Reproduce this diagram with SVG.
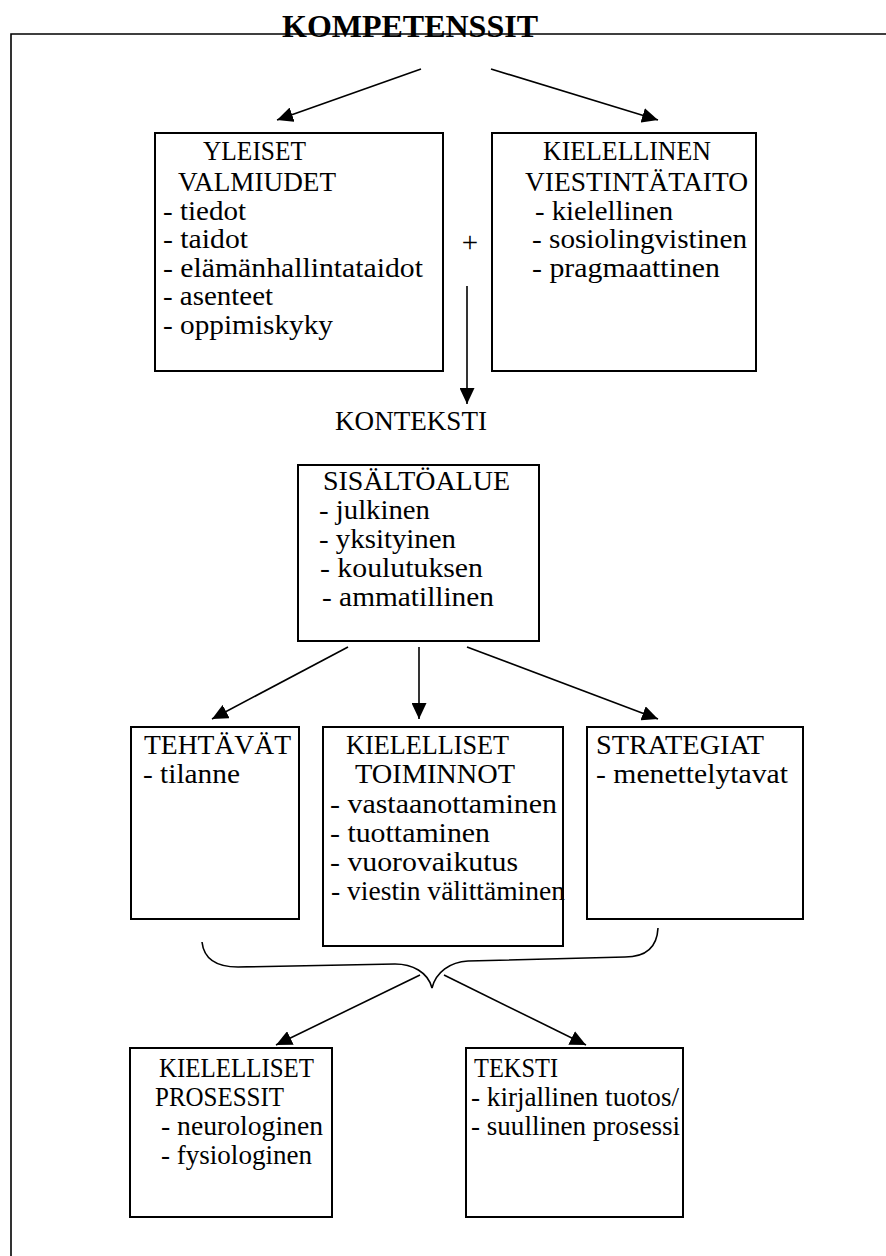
<svg xmlns="http://www.w3.org/2000/svg" width="886" height="1256" viewBox="0 0 886 1256">
  <style>
    .frame { fill: none; stroke: #000; stroke-width: 1.6; }
    .box { fill: #fff; stroke: #000; stroke-width: 2; }
    .link { fill: none; stroke: #000; stroke-width: 1.6; }
    .arrow { marker-end: url(#head); }
    text { font-family: "Liberation Serif", "Times New Roman", serif; font-size: 27px; fill: #000; }
    .title { font-weight: bold; font-size: 31px; }
    .plus { font-size: 29px; }
  </style>
  <defs>
    <marker id="head" markerUnits="userSpaceOnUse" markerWidth="16" markerHeight="15" refX="16" refY="7.5" orient="auto">
      <path d="M0,0 L16,7.5 L0,15 Z" fill="#000"/>
    </marker>
  </defs>

  <rect width="886" height="1256" fill="#fff"/>

  <!-- outer frame: top rule and left rule -->
  <path class="frame" d="M11,1256 L11,34 L886,34"/>
  <text class="title" x="282" y="37" textLength="256" lengthAdjust="spacingAndGlyphs">KOMPETENSSIT</text>

  <g id="connectors">
    <line class="link arrow" x1="421" y1="69" x2="277" y2="120"/>
    <line class="link arrow" x1="491" y1="69" x2="658" y2="120"/>
    <line class="link arrow" x1="467" y1="286" x2="467" y2="404"/>
    <line class="link arrow" x1="348" y1="647" x2="212" y2="719"/>
    <line class="link arrow" x1="419" y1="647" x2="419" y2="719"/>
    <line class="link arrow" x1="467" y1="647" x2="658" y2="719"/>
    <!-- curly brace joining the three middle boxes -->
    <path class="link" d="M202,942 C204,960 218,967 238,967 L395,964 C412,964 428,972 432,988 C436,972 450,962 468,961 L625,957 C645,957 657,948 658,928"/>
    <line class="link arrow" x1="420" y1="975" x2="276" y2="1045"/>
    <line class="link arrow" x1="444" y1="975" x2="586" y2="1045"/>
  </g>

  <g id="yleiset-valmiudet">
    <rect class="box" x="155" y="133" width="288" height="238"/>
    <text x="203" y="160" textLength="103" lengthAdjust="spacingAndGlyphs">YLEISET</text>
    <text x="178" y="191" textLength="158" lengthAdjust="spacingAndGlyphs">VALMIUDET</text>
    <text x="163" y="220" textLength="83" lengthAdjust="spacingAndGlyphs">- tiedot</text>
    <text x="163" y="248" textLength="85" lengthAdjust="spacingAndGlyphs">- taidot</text>
    <text x="163" y="277" textLength="260" lengthAdjust="spacingAndGlyphs">- elämänhallintataidot</text>
    <text x="163" y="305" textLength="110" lengthAdjust="spacingAndGlyphs">- asenteet</text>
    <text x="163" y="334" textLength="170" lengthAdjust="spacingAndGlyphs">- oppimiskyky</text>
  </g>

  <g id="plus">
    <text class="plus" x="470" y="252" text-anchor="middle">+</text>
  </g>

  <g id="kielellinen-viestintataito">
    <rect class="box" x="492" y="133" width="264" height="238"/>
    <text x="543" y="160" textLength="168" lengthAdjust="spacingAndGlyphs">KIELELLINEN</text>
    <text x="525" y="191" textLength="223" lengthAdjust="spacingAndGlyphs">VIESTINTÄTAITO</text>
    <text x="535" y="220" textLength="138" lengthAdjust="spacingAndGlyphs">- kielellinen</text>
    <text x="532" y="248" textLength="215" lengthAdjust="spacingAndGlyphs">- sosiolingvistinen</text>
    <text x="532" y="277" textLength="188" lengthAdjust="spacingAndGlyphs">- pragmaattinen</text>
  </g>

  <g id="konteksti">
    <text x="335" y="430" textLength="152" lengthAdjust="spacingAndGlyphs">KONTEKSTI</text>
  </g>

  <g id="sisaltoalue">
    <rect class="box" x="298" y="465" width="241" height="176"/>
    <text x="323" y="490" textLength="187" lengthAdjust="spacingAndGlyphs">SISÄLTÖALUE</text>
    <text x="319" y="519" textLength="111" lengthAdjust="spacingAndGlyphs">- julkinen</text>
    <text x="319" y="548" textLength="137" lengthAdjust="spacingAndGlyphs">- yksityinen</text>
    <text x="320" y="577" textLength="163" lengthAdjust="spacingAndGlyphs">- koulutuksen</text>
    <text x="322" y="606" textLength="172" lengthAdjust="spacingAndGlyphs">- ammatillinen</text>
  </g>

  <g id="tehtavat">
    <rect class="box" x="131" y="727" width="168" height="192"/>
    <text x="144" y="754" textLength="147" lengthAdjust="spacingAndGlyphs">TEHTÄVÄT</text>
    <text x="143" y="783" textLength="97" lengthAdjust="spacingAndGlyphs">- tilanne</text>
  </g>

  <g id="kielelliset-toiminnot">
    <rect class="box" x="323" y="727" width="240" height="219"/>
    <text x="346" y="754" textLength="163" lengthAdjust="spacingAndGlyphs">KIELELLISET</text>
    <text x="355" y="783" textLength="160" lengthAdjust="spacingAndGlyphs">TOIMINNOT</text>
    <text x="330" y="813" textLength="227" lengthAdjust="spacingAndGlyphs">- vastaanottaminen</text>
    <text x="330" y="842" textLength="160" lengthAdjust="spacingAndGlyphs">- tuottaminen</text>
    <text x="330" y="871" textLength="188" lengthAdjust="spacingAndGlyphs">- vuorovaikutus</text>
    <text x="331" y="900" textLength="234" lengthAdjust="spacingAndGlyphs">- viestin välittäminen</text>
  </g>

  <g id="strategiat">
    <rect class="box" x="587" y="727" width="216" height="192"/>
    <text x="596" y="754" textLength="168" lengthAdjust="spacingAndGlyphs">STRATEGIAT</text>
    <text x="596" y="783" textLength="192" lengthAdjust="spacingAndGlyphs">- menettelytavat</text>
  </g>

  <g id="kielelliset-prosessit">
    <rect class="box" x="130" y="1048" width="202" height="169"/>
    <text x="159" y="1077" textLength="155" lengthAdjust="spacingAndGlyphs">KIELELLISET</text>
    <text x="155" y="1106" textLength="129" lengthAdjust="spacingAndGlyphs">PROSESSIT</text>
    <text x="161" y="1135" textLength="162" lengthAdjust="spacingAndGlyphs">- neurologinen</text>
    <text x="161" y="1164" textLength="151" lengthAdjust="spacingAndGlyphs">- fysiologinen</text>
  </g>

  <g id="teksti">
    <rect class="box" x="466" y="1048" width="217" height="169"/>
    <text x="474" y="1077" textLength="84" lengthAdjust="spacingAndGlyphs">TEKSTI</text>
    <text x="471" y="1106" textLength="208" lengthAdjust="spacingAndGlyphs">- kirjallinen tuotos/</text>
    <text x="471" y="1135" textLength="209" lengthAdjust="spacingAndGlyphs">- suullinen prosessi</text>
  </g>
</svg>
